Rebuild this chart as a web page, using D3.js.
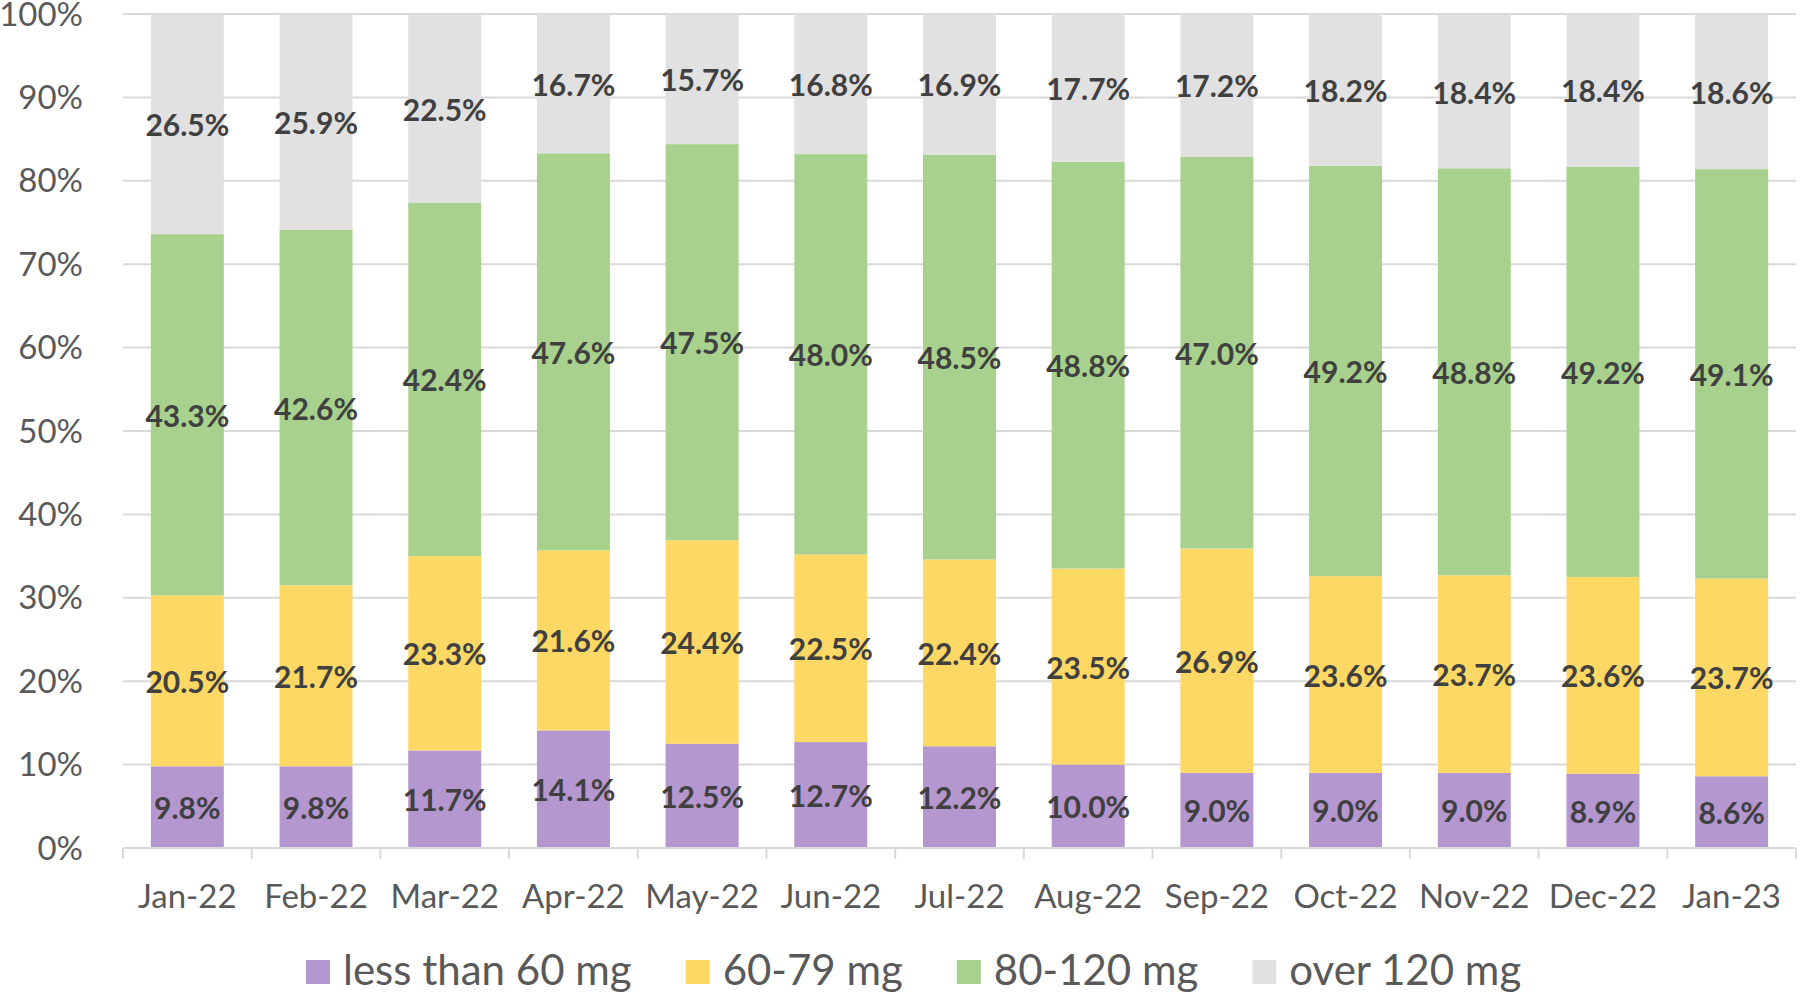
<!DOCTYPE html>
<html>
<head>
<meta charset="utf-8">
<script src="https://cdn.jsdelivr.net/npm/d3@7/dist/d3.min.js"></script>
<style>
  html, body { margin: 0; padding: 0; background: #ffffff; }
  svg { display: block; }
</style>
</head>
<body>
<svg id="chart" width="1800" height="993"></svg>
<script>
const categories = ["Jan-22","Feb-22","Mar-22","Apr-22","May-22","Jun-22","Jul-22","Aug-22","Sep-22","Oct-22","Nov-22","Dec-22","Jan-23"];
const seriesNames = ["less than 60 mg","60-79 mg","80-120 mg","over 120 mg"];
const lessThan60 = [9.8, 9.8, 11.7, 14.1, 12.5, 12.7, 12.2, 10.0, 9.0, 9.0, 9.0, 8.9, 8.6];
const mg60to79   = [20.5, 21.7, 23.3, 21.6, 24.4, 22.5, 22.4, 23.5, 26.9, 23.6, 23.7, 23.6, 23.7];
const mg80to120  = [43.3, 42.6, 42.4, 47.6, 47.5, 48.0, 48.5, 48.8, 47.0, 49.2, 48.8, 49.2, 49.1];
const over120    = [26.5, 25.9, 22.5, 16.7, 15.7, 16.8, 16.9, 17.7, 17.2, 18.2, 18.4, 18.4, 18.6];
const yTicks = [0, 10, 20, 30, 40, 50, 60, 70, 80, 90, 100];
const colors = ["#b497cf", "#fdd865", "#a8d18d", "#e1e1e1"];

const seriesValues = [lessThan60, mg60to79, mg80to120, over120];
const table = categories.map((c, i) => {
  const row = { cat: c };
  seriesNames.forEach((s, j) => { row[s] = seriesValues[j][i]; });
  return row;
});

const svg = d3.select("#chart");
const M = { left: 123, right: 1796, top: 14, bottom: 848 };

const x = d3.scaleBand().domain(categories).range([M.left, M.right]).paddingInner(0.433).paddingOuter(0.2165);
const y = d3.scaleLinear().domain([0, 100]).range([M.bottom, M.top]).clamp(true);

// gridlines
svg.append("g").selectAll("line").data(yTicks.filter(t => t > 0)).join("line")
  .attr("x1", M.left).attr("x2", M.right)
  .attr("y1", d => y(d)).attr("y2", d => y(d))
  .attr("stroke", "#d9d9d9").attr("stroke-width", 2);

// y labels
svg.append("g").selectAll("text").data(yTicks).join("text")
  .attr("x", 83).attr("y", d => y(d) + 11.5)
  .attr("text-anchor", "end")
  .attr("font-family", "Lato, sans-serif").attr("font-size", 33)
  .attr("fill", "#595959")
  .text(d => d + "%");

// stacked bars
const stack = d3.stack().keys(seriesNames);
const stacked = stack(table);

const layers = svg.append("g").selectAll("g").data(stacked).join("g")
  .attr("fill", (d, i) => colors[i]);
layers.selectAll("rect").data(d => d).join("rect")
  .attr("x", d => x(d.data.cat))
  .attr("width", x.bandwidth())
  .attr("y", d => y(d[1]))
  .attr("height", d => y(d[0]) - y(d[1]));

// data labels
const labels = svg.append("g");
stacked.forEach((layer) => {
  labels.selectAll(null).data(layer).join("text")
    .attr("x", d => x(d.data.cat) + x.bandwidth() / 2)
    .attr("y", d => (y(d[0]) + y(d[1])) / 2 + 12)
    .attr("text-anchor", "middle")
    .attr("font-family", "Lato, sans-serif").attr("font-weight", "bold").attr("font-size", 30)
    .attr("fill", "#404040")
    .text(d => (d[1] - d[0]).toFixed(1) + "%");
});

// x axis
const xAxisG = svg.append("g");
xAxisG.append("line").attr("x1", M.left).attr("x2", M.right)
  .attr("y1", M.bottom).attr("y2", M.bottom)
  .attr("stroke", "#d9d9d9").attr("stroke-width", 2);
const step = x.step();
const tickXs = d3.range(categories.length + 1).map(i => M.left + i * step);
xAxisG.selectAll("line.tick").data(tickXs).join("line").attr("class", "tick")
  .attr("x1", d => d).attr("x2", d => d)
  .attr("y1", M.bottom).attr("y2", M.bottom + 11)
  .attr("stroke", "#d9d9d9").attr("stroke-width", 2);
xAxisG.selectAll("text").data(categories).join("text")
  .attr("x", d => x(d) + x.bandwidth() / 2)
  .attr("y", 908)
  .attr("text-anchor", "middle")
  .attr("font-family", "Lato, sans-serif").attr("font-size", 33)
  .attr("fill", "#595959")
  .text(d => d);

// legend
const legend = svg.append("g");
let lx = 306;
seriesNames.forEach((s, i) => {
  legend.append("rect").attr("x", lx).attr("y", 960).attr("width", 24).attr("height", 24).attr("fill", colors[i]);
  const t = legend.append("text").attr("x", lx + 37).attr("y", 985)
    .attr("font-family", "Lato, sans-serif").attr("font-size", 42)
    .attr("fill", "#595959").text(s);
  lx = lx + 37 + t.node().getComputedTextLength() + 54;
});
</script>
</body>
</html>
